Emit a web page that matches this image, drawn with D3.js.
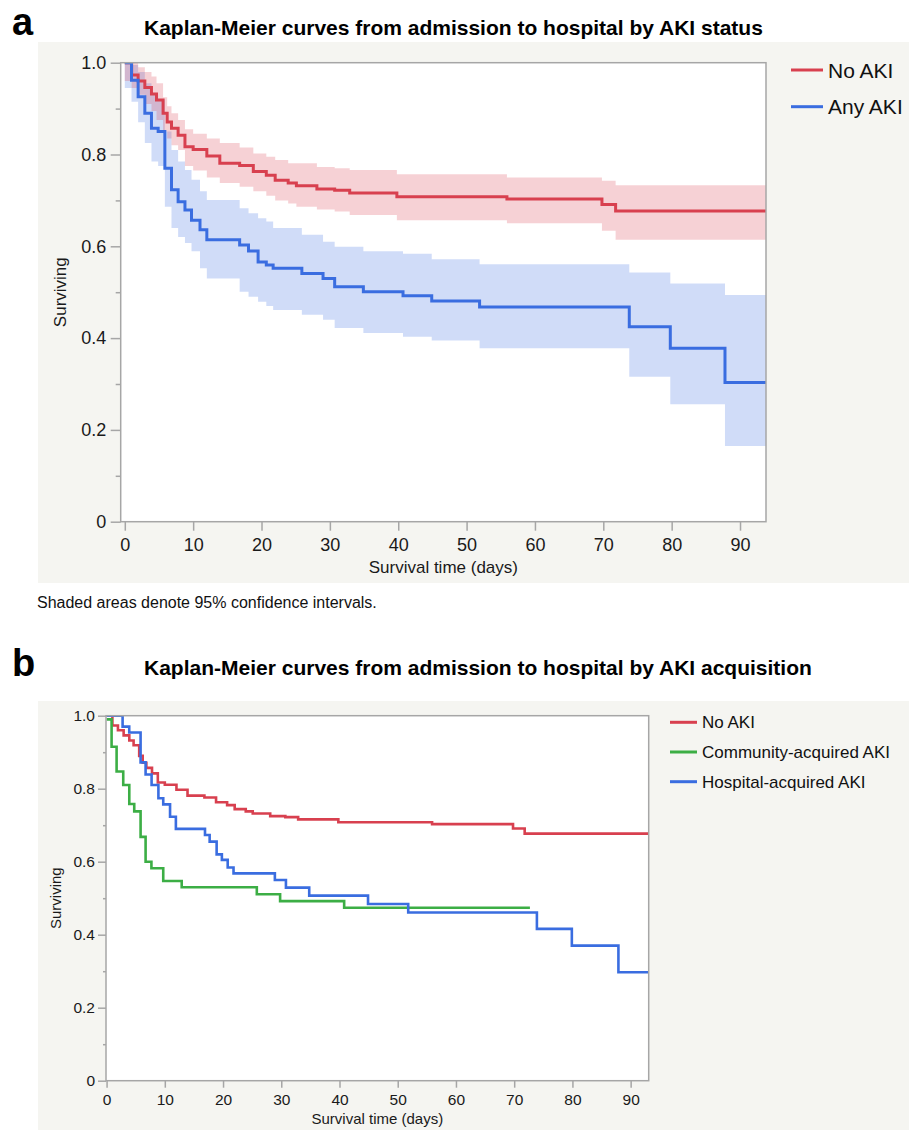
<!DOCTYPE html>
<html>
<head>
<meta charset="utf-8">
<script src="https://cdn.jsdelivr.net/npm/d3@7"></script>
<style>
  body { margin: 0; background: #fff; }
  svg { display: block; font-family: "Liberation Sans", Arial, Helvetica, sans-serif; }
</style>
</head>
<body>
<svg id="chart" width="909" height="1130"></svg>
<script>
// ---- values ----
const xTicks = [0, 10, 20, 30, 40, 50, 60, 70, 80, 90];
const yTicks = [0, 0.2, 0.4, 0.6, 0.8, 1.0];
const yMinorTicks = [0.1, 0.3, 0.5, 0.7, 0.9];

// No AKI (same group in both panels)
const noAkiDays  = [0, 1.0, 1.95, 2.93, 3.9, 4.64, 5.6, 6.2, 6.83, 7.8, 8.8, 10, 12, 13.9, 16.8, 18.8, 20.7, 22, 23.9, 25.1, 28.1, 30.7, 32.9, 39.8, 55.9, 69.8, 71.8];
const noAkiSurv  = [1, .973, .960, .946, .932, .919, .890, .871, .857, .842, .817, .811, .797, .781, .776, .763, .755, .744, .738, .732, .725, .722, .716, .708, .703, .691, .677];
const noAkiLower = [.96, .945, .93, .91, .895, .875, .85, .835, .82, .81, .775, .765, .75, .738, .73, .72, .71, .70, .693, .686, .68, .676, .668, .657, .65, .634, .614];
const noAkiUpper = [1, 1, .99, .98, .97, .955, .925, .905, .89, .875, .855, .845, .835, .825, .815, .802, .795, .788, .781, .781, .773, .77, .766, .757, .75, .743, .733];

// Any AKI (panel a)
const anyAkiDays  = [0, 0.98, 1.95, 2.93, 3.9, 4.88, 5.86, 6.83, 7.8, 8.8, 9.76, 11, 12, 16.8, 18.1, 19.5, 20.7, 21.7, 25.9, 29, 30.7, 34.9, 40.7, 44.9, 51.9, 73.8, 79.8, 87.8];
const anyAkiSurv  = [1, .962, .926, .890, .857, .850, .770, .723, .697, .679, .657, .636, .614, .603, .590, .566, .559, .552, .541, .530, .512, .501, .492, .481, .468, .425, .378, .303];
const anyAkiLower = [.945, .915, .87, .825, .785, .775, .686, .64, .62, .607, .589, .552, .53, .501, .49, .479, .47, .461, .451, .44, .422, .411, .403, .395, .378, .316, .256, .165];
const anyAkiUpper = [1, .995, .98, .955, .93, .92, .85, .81, .785, .766, .745, .72, .701, .683, .672, .661, .654, .64, .625, .61, .599, .589, .584, .572, .561, .543, .519, .494];

// Community-acquired AKI (panel b)
const caAkiDays = [0, 0.86, 1.72, 2.86, 3.9, 4.75, 5.84, 6.7, 7.7, 9.73, 12.9, 25.8, 29.8, 40.8];
const caAkiSurv = [.99, .915, .847, .810, .758, .738, .668, .600, .582, .547, .530, .511, .492, .474];
const caAkiLastDay = 72.7;

// Hospital-acquired AKI (panel b)
const haAkiDays = [0, 2.75, 3.89, 5.84, 6.7, 7.73, 8.9, 9.73, 10.9, 11.9, 16.9, 17.7, 18.9, 19.8, 20.8, 21.8, 28.9, 30.8, 34.8, 44.9, 51.8, 73.9, 79.9, 87.9];
const haAkiSurv = [1, .970, .954, .872, .839, .810, .774, .757, .723, .690, .673, .655, .620, .605, .584, .568, .550, .529, .507, .484, .461, .416, .370, .297];

const followUpEnd = 95;

const colors = { noAki: '#d8404f', anyAki: '#3a6de0', caAki: '#3cae45' };

const svg = d3.select('#chart');

function steps(days, vals, end) {
    const pts = days.map((d, i) => ({ t: d, v: vals[i] }));
    pts.push({ t: end, v: vals[vals.length - 1] });
    return pts;
}

function bandSteps(days, lo, hi, end) {
    const pts = days.map((d, i) => ({ t: d, lo: lo[i], hi: hi[i] }));
    pts.push({ t: end, lo: lo[lo.length - 1], hi: hi[hi.length - 1] });
    return pts;
}

function drawPanel(cfg) {
    const g = svg.append('g');

    g.append('rect').attr('x', cfg.bg[0]).attr('y', cfg.bg[1]).attr('width', cfg.bg[2]).attr('height', cfg.bg[3]).attr('fill', '#f5f5f1');

    g.append('text').attr('x', 12).attr('y', cfg.letterY).attr('font-size', 38).attr('font-weight', 'bold').text(cfg.letter);
    g.append('text').attr('x', 144).attr('y', cfg.titleY).attr('font-size', 21).attr('font-weight', 'bold').text(cfg.title);

    const x = d3.scaleLinear().domain(cfg.xDomain).range([cfg.left, cfg.right]);
    const y = d3.scaleLinear().domain([0, 1]).range([cfg.bottom, cfg.top]);

    g.append('rect').attr('x', cfg.left).attr('y', cfg.top).attr('width', cfg.right - cfg.left).attr('height', cfg.bottom - cfg.top).attr('fill', '#fff');

    const clipId = 'clip-' + cfg.letter;
    svg.append('clipPath').attr('id', clipId).append('rect')
        .attr('x', cfg.left).attr('y', cfg.top).attr('width', cfg.right - cfg.left).attr('height', cfg.bottom - cfg.top);

    const plot = g.append('g').attr('clip-path', `url(#${clipId})`);

    const area = d3.area().curve(d3.curveStepAfter).x(d => x(d.t)).y0(d => y(d.lo)).y1(d => y(d.hi));
    const line = d3.line().curve(d3.curveStepAfter).x(d => x(d.t)).y(d => y(d.v));

    cfg.bands.forEach(b => {
        plot.append('path').datum(b.data).attr('d', area).attr('fill', b.color).attr('fill-opacity', 0.24);
    });
    cfg.series.forEach(s => {
        plot.append('path').datum(s.data).attr('d', line).attr('fill', 'none')
            .attr('stroke', s.color).attr('stroke-width', cfg.lineWidth);
    });

    // frame drawn over the curves
    g.append('rect').attr('x', cfg.left).attr('y', cfg.top).attr('width', cfg.right - cfg.left).attr('height', cfg.bottom - cfg.top)
        .attr('fill', 'none').attr('stroke', '#a6a6a6').attr('stroke-width', 1.5);

    const xAxis = g.append('g').attr('transform', `translate(0,${cfg.bottom})`)
        .call(d3.axisBottom(x).tickValues(xTicks).tickSize(cfg.xTick).tickPadding(cfg.xPad));
    const yAxis = g.append('g').attr('transform', `translate(${cfg.left},0)`)
        .call(d3.axisLeft(y).tickValues(yTicks).tickSize(cfg.yTick).tickPadding(cfg.yPad)
            .tickFormat(d => d === 0 ? '0' : d.toFixed(1)));
    const yMinor = g.append('g').attr('transform', `translate(${cfg.left},0)`)
        .call(d3.axisLeft(y).tickValues(yMinorTicks).tickSize(cfg.yMinorTick).tickFormat(''));

    [xAxis, yAxis, yMinor].forEach(a => {
        a.attr('font-family', null);
        a.select('.domain').remove();
        a.selectAll('line').attr('stroke', '#a6a6a6').attr('stroke-width', 1.5);
        a.selectAll('text').attr('font-size', cfg.tickFont).attr('fill', '#1a1a1a');
    });

    g.append('text').attr('x', (cfg.left + cfg.right) / 2).attr('y', cfg.xLabelY).attr('text-anchor', 'middle')
        .attr('font-size', cfg.labelFont).attr('fill', '#1a1a1a').text('Survival time (days)');
    g.append('text').attr('transform', `translate(${cfg.yLabelX},${(cfg.top + cfg.bottom) / 2}) rotate(-90)`)
        .attr('text-anchor', 'middle').attr('font-size', cfg.labelFont).attr('fill', '#1a1a1a').text('Surviving');

    const leg = g.append('g');
    cfg.series.forEach((s, i) => {
        const ly = cfg.legend.y + i * cfg.legend.gap;
        leg.append('line').attr('x1', cfg.legend.x).attr('x2', cfg.legend.x + cfg.legend.len)
            .attr('y1', ly).attr('y2', ly).attr('stroke', s.color).attr('stroke-width', 3);
        leg.append('text').attr('x', cfg.legend.x + cfg.legend.len + 5).attr('y', ly + cfg.legend.font * 0.36)
            .attr('font-size', cfg.legend.font).attr('fill', '#111').text(s.name);
    });
}

drawPanel({
    letter: 'a', letterY: 34.5, titleY: 35,
    title: 'Kaplan-Meier curves from admission to hospital by AKI status',
    bg: [38, 42, 871, 541],
    xDomain: [-0.6, 93.8], left: 120.7, right: 766, top: 62.7, bottom: 521.7,
    lineWidth: 3, tickFont: 18, labelFont: 17, xTick: 9, xPad: 8, yTick: 10, yPad: 4.5, yMinorTick: 5,
    xLabelY: 573, yLabelX: 66,
    legend: { x: 791, y: 70, gap: 36.7, len: 32, font: 21 },
    bands: [
        { color: colors.anyAki, data: bandSteps(anyAkiDays, anyAkiLower, anyAkiUpper, followUpEnd) },
        { color: colors.noAki, data: bandSteps(noAkiDays, noAkiLower, noAkiUpper, followUpEnd) }
    ],
    series: [
        { name: 'No AKI', color: colors.noAki, data: steps(noAkiDays, noAkiSurv, followUpEnd) },
        { name: 'Any AKI', color: colors.anyAki, data: steps(anyAkiDays, anyAkiSurv, followUpEnd) }
    ]
});

svg.append('text').attr('x', 37).attr('y', 607.5).attr('font-size', 16).attr('fill', '#111')
    .text('Shaded areas denote 95% confidence intervals.');

drawPanel({
    letter: 'b', letterY: 676, titleY: 675,
    title: 'Kaplan-Meier curves from admission to hospital by AKI acquisition',
    bg: [38, 701, 871, 429],
    xDomain: [-0.1, 93.1], left: 106, right: 648.7, top: 715.7, bottom: 1080.7,
    lineWidth: 2.6, tickFont: 15.5, labelFont: 15, xTick: 7, xPad: 6.5, yTick: 8, yPad: 3, yMinorTick: 3,
    xLabelY: 1124, yLabelX: 61,
    legend: { x: 670, y: 722.3, gap: 29.7, len: 27, font: 17 },
    bands: [],
    series: [
        { name: 'No AKI', color: colors.noAki, data: steps(noAkiDays, noAkiSurv, followUpEnd) },
        { name: 'Community-acquired AKI', color: colors.caAki, data: steps(caAkiDays, caAkiSurv, caAkiLastDay) },
        { name: 'Hospital-acquired AKI', color: colors.anyAki, data: steps(haAkiDays, haAkiSurv, followUpEnd) }
    ]
});
</script>
</body>
</html>
